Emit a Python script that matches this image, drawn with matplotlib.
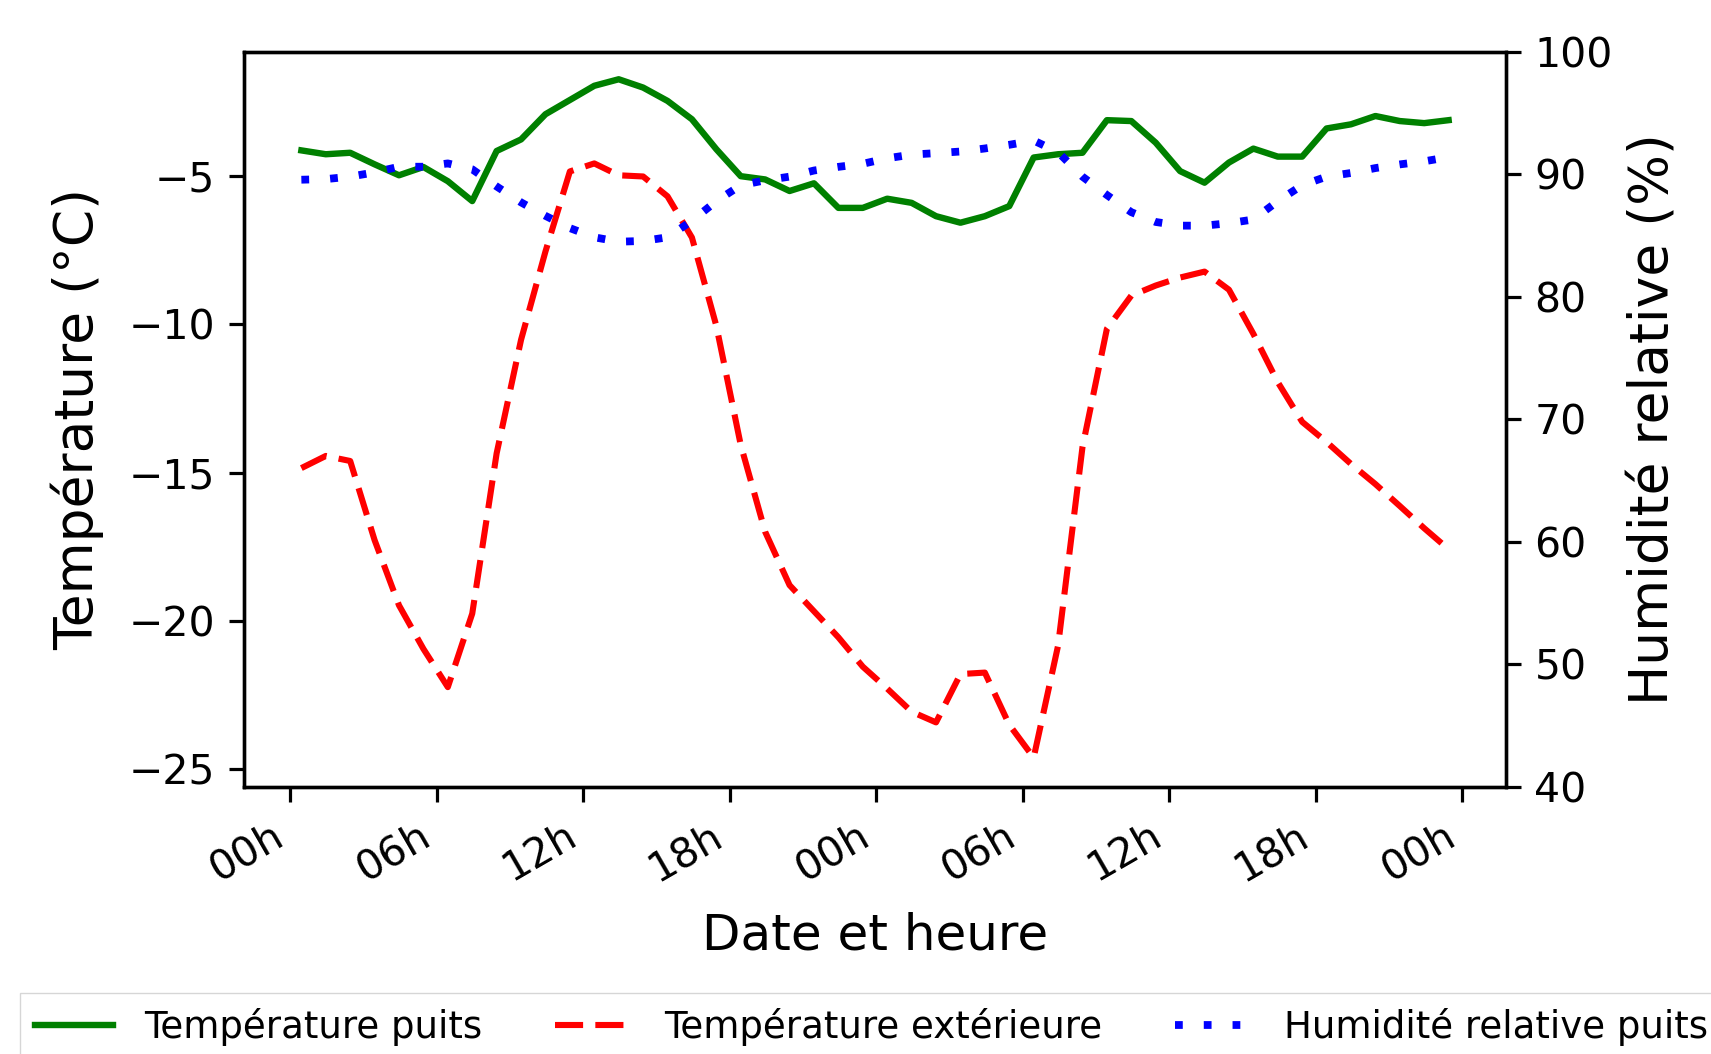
import pandas as pd
import matplotlib
matplotlib.use("Agg")
import matplotlib.pyplot as plt
import matplotlib.dates as mdates

# hourly readings, two days
start = "2021-02-08 00:27"
n_points = 48

temp_puits = [
    -4.13, -4.26, -4.21, -4.60, -4.97, -4.69, -5.17, -5.84, -4.15, -3.76,
    -2.91, -2.43, -1.95, -1.73, -2.01, -2.46, -3.08, -4.09, -5.00, -5.11,
    -5.50, -5.24, -6.07, -6.07, -5.76, -5.90, -6.35, -6.57, -6.35, -6.01,
    -4.37, -4.26, -4.21, -3.11, -3.14, -3.87, -4.83, -5.22, -4.54, -4.07,
    -4.34, -4.34, -3.39, -3.25, -2.97, -3.14, -3.21, -3.11,
]

temp_ext = [
    -14.85, -14.44, -14.61, -17.28, -19.48, -20.95, -22.24, -19.76, -14.35, -10.52,
    -7.54, -4.84, -4.57, -4.97, -5.01, -5.68, -7.07, -10.05, -14.07, -17.00,
    -18.80, -19.68, -20.56, -21.55, -22.29, -23.07, -23.43, -21.80, -21.75, -23.51,
    -24.62, -20.84, -14.14, -10.15, -9.03, -8.69, -8.42, -8.22, -8.83, -10.32,
    -11.95, -13.29, -13.97, -14.71, -15.39, -16.13, -16.88, -17.59,
]

humidite = [
    89.55, 89.60, 89.80, 90.15, 90.61, 90.61, 90.88, 90.40, 89.00, 87.70,
    86.60, 85.60, 84.85, 84.49, 84.55, 84.85, 86.20, 87.80, 89.10, 89.50,
    89.80, 90.30, 90.60, 90.85, 91.30, 91.60, 91.72, 91.85, 92.10, 92.40,
    92.75, 91.80, 89.80, 88.30, 86.90, 86.10, 85.80, 85.80, 86.00, 86.30,
    87.80, 89.10, 89.80, 90.10, 90.50, 90.80, 91.05, 91.40,
]

dates = pd.date_range(start=start, periods=n_points, freq="h")

W, H = 1711, 1054
fig = plt.figure(figsize=(W / 100, H / 100), dpi=100)
fig.subplots_adjust(left=244 / W, right=1506 / W, top=1 - 51.7 / H, bottom=1 - 786.7 / H)
ax1 = fig.add_subplot(111)
ax2 = ax1.twinx()

l1, = ax1.plot(dates, temp_puits, color="green", linestyle="-", linewidth=4.6,
               label="Température puits")
l2, = ax1.plot(dates, temp_ext, color="red", linestyle=(0, (4.6, 2.0)), linewidth=4.4,
               label="Température extérieure")
l3, = ax2.plot(dates, humidite, color="blue", linestyle=(0, (1, 2.7)), linewidth=5.6,
               label="Humidité relative puits")

ax1.set_ylim(-25.6, -0.8)
ax2.set_ylim(40, 100)

ax1.xaxis.set_major_locator(mdates.HourLocator(byhour=[0, 6, 12, 18]))
ax1.xaxis.set_major_formatter(mdates.DateFormatter("%Hh"))
plt.setp(ax1.get_xticklabels(), rotation=30, ha="right")

tick_fs = 29.5
for ax in (ax1, ax2):
    ax.tick_params(labelsize=tick_fs, length=10.5, width=2.3, pad=10)
    for sp in ax.spines.values():
        sp.set_linewidth(2.4)

ax1.set_xlabel("Date et heure", fontsize=36, labelpad=16)
ax1.set_ylabel("Température (°C)", fontsize=38.5, labelpad=18)
ax2.set_ylabel("Humidité relative (%)", fontsize=38.5, labelpad=10)

fig.legend(handles=[l1, l2, l3], loc="upper left", bbox_to_anchor=(20 / W, 1 - 993 / H),
           ncol=3, fontsize=26.7, borderaxespad=0, frameon=True, fancybox=False,
           edgecolor="0.8", handlelength=2.1, handletextpad=0.85, columnspacing=1.95)

fig.savefig("out.png", dpi=100)
